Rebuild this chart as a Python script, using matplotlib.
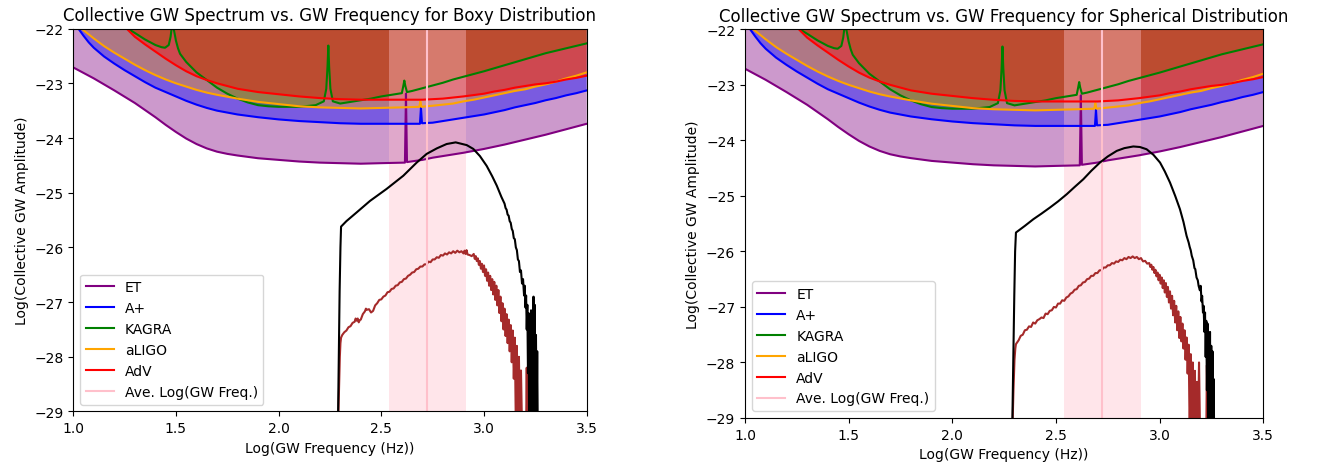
import matplotlib
matplotlib.use("Agg")
import matplotlib.pyplot as plt

# ---------------- detector sensitivity curves (log10 strain) ----------------
ET_x = [1.00, 1.10, 1.20, 1.30, 1.40, 1.45, 1.50, 1.55, 1.60, 1.65, 1.70, 1.75, 1.80, 1.90,
        2.00, 2.10, 2.20, 2.30, 2.40, 2.50, 2.615, 2.620, 2.625, 2.70, 2.75, 2.80, 2.85, 2.90,
        3.00, 3.10, 3.20, 3.30, 3.40, 3.50]
ET_y = [-22.71, -22.91, -23.13, -23.36, -23.62, -23.76, -23.89, -24.01, -24.11, -24.19, -24.25,
        -24.29, -24.32, -24.37, -24.40, -24.43, -24.45, -24.46, -24.47, -24.46, -24.45, -23.19,
        -24.44, -24.40, -24.36, -24.33, -24.30, -24.27, -24.20, -24.12, -24.03, -23.94, -23.84,
        -23.74]

AP_x = [1.00, 1.025, 1.05, 1.075, 1.10, 1.15, 1.20, 1.25, 1.30, 1.35, 1.40, 1.45, 1.50, 1.55,
        1.60, 1.65, 1.70, 1.80, 1.90, 2.00, 2.10, 2.20, 2.30, 2.40, 2.50, 2.60, 2.688, 2.693,
        2.698, 2.75, 2.80, 2.85, 2.90, 2.95, 3.00, 3.05, 3.10, 3.15, 3.20, 3.25, 3.30, 3.35,
        3.40, 3.45, 3.50]
AP_y = [-21.85, -22.00, -22.13, -22.25, -22.35, -22.51, -22.64, -22.76, -22.87, -22.98, -23.08,
        -23.16, -23.24, -23.32, -23.39, -23.45, -23.50, -23.57, -23.62, -23.66, -23.69, -23.71,
        -23.73, -23.74, -23.74, -23.74, -23.74, -23.45, -23.73, -23.72, -23.69, -23.66, -23.63,
        -23.60, -23.57, -23.53, -23.49, -23.44, -23.40, -23.36, -23.31, -23.27, -23.22, -23.18,
        -23.13]

KG_x = [1.20, 1.265, 1.30, 1.35, 1.40, 1.43, 1.447, 1.465, 1.474, 1.479, 1.484, 1.489, 1.495,
        1.50, 1.51, 1.52, 1.55, 1.60, 1.65, 1.70, 1.75, 1.80, 1.85, 1.90, 1.95, 2.00, 2.10,
        2.18, 2.22, 2.232, 2.238, 2.242, 2.246, 2.252, 2.264, 2.30, 2.35, 2.40, 2.45, 2.50,
        2.55, 2.60, 2.607, 2.612, 2.617, 2.625, 2.65, 2.70, 2.75, 2.80, 2.85, 2.90, 3.00, 3.10,
        3.20, 3.30, 3.40, 3.50]
KG_y = [-21.80, -22.00, -22.08, -22.20, -22.30, -22.34, -22.35, -22.30, -22.15, -22.00, -21.50,
        -22.00, -22.12, -22.22, -22.36, -22.46, -22.61, -22.80, -22.94, -23.08, -23.19, -23.28,
        -23.35, -23.40, -23.42, -23.43, -23.43, -23.40, -23.33, -23.10, -22.70, -22.31, -22.70,
        -23.10, -23.33, -23.37, -23.34, -23.31, -23.28, -23.24, -23.21, -23.18, -23.05, -22.95,
        -23.05, -23.16, -23.14, -23.09, -23.04, -22.99, -22.93, -22.88, -22.78, -22.67, -22.56,
        -22.45, -22.36, -22.27]

LG_x = [1.00, 1.04, 1.10, 1.15, 1.20, 1.25, 1.30, 1.35, 1.40, 1.45, 1.50, 1.55, 1.60, 1.65,
        1.70, 1.80, 1.90, 2.00, 2.10, 2.20, 2.30, 2.40, 2.50, 2.60, 2.685, 2.69, 2.695, 2.75,
        2.80, 2.85, 2.90, 2.95, 3.00, 3.05, 3.10, 3.15, 3.20, 3.25, 3.30, 3.35, 3.40, 3.45, 3.50]
LG_y = [-21.88, -22.00, -22.18, -22.32, -22.44, -22.55, -22.66, -22.76, -22.85, -22.93, -23.00,
        -23.06, -23.12, -23.17, -23.21, -23.28, -23.34, -23.38, -23.42, -23.44, -23.45, -23.46,
        -23.45, -23.44, -23.43, -23.33, -23.43, -23.41, -23.39, -23.37, -23.33, -23.30, -23.26,
        -23.22, -23.18, -23.14, -23.11, -23.06, -23.02, -22.97, -22.91, -22.86, -22.80]

AV_x = [1.20, 1.26, 1.30, 1.35, 1.40, 1.45, 1.50, 1.55, 1.60, 1.65, 1.70, 1.75, 1.80, 1.90,
        2.00, 2.10, 2.20, 2.30, 2.40, 2.50, 2.60, 2.70, 2.80, 2.90, 3.00, 3.05, 3.10, 3.15,
        3.20, 3.25, 3.30, 3.35, 3.40, 3.45, 3.50]
AV_y = [-21.75, -22.00, -22.15, -22.29, -22.42, -22.55, -22.67, -22.78, -22.87, -22.94, -23.00,
        -23.05, -23.10, -23.16, -23.20, -23.24, -23.27, -23.29, -23.30, -23.30, -23.30, -23.30,
        -23.28, -23.24, -23.19, -23.15, -23.12, -23.08, -23.05, -23.02, -23.00, -22.97, -22.93,
        -22.90, -22.86]

DET_NAMES = ["ET", "A+", "KAGRA", "aLIGO", "AdV"]
DET_COLORS = ["purple", "blue", "green", "orange", "red"]

# average log frequency band
AVG_LOGF = 2.724
AVG_LO = 2.537
AVG_HI = 2.912

# ---------------- Boxy distribution spectra ----------------
BOXY_BLACK_X = [2.288, 2.293, 2.297, 2.301, 2.304, 2.33, 2.38, 2.445, 2.526, 2.607, 2.672, 2.721,
                2.77, 2.818, 2.862, 2.916, 2.948, 2.98, 3.013, 3.04, 3.062, 3.085,
                3.100, 3.105, 3.110, 3.115, 3.120, 3.125, 3.130, 3.135, 3.140, 3.145, 3.150,
                3.155, 3.160, 3.165, 3.170, 3.175, 3.180, 3.185, 3.190, 3.195, 3.198, 3.202,
                3.205, 3.208, 3.211, 3.214, 3.217, 3.220, 3.223, 3.226, 3.229, 3.232, 3.235,
                3.238, 3.241, 3.244, 3.247, 3.250, 3.253, 3.256, 3.259, 3.262]
BOXY_BLACK_Y = [-29.5, -28.0, -26.8, -26.0, -25.62, -25.52, -25.36, -25.15, -24.93, -24.69,
                -24.45, -24.29, -24.19, -24.11, -24.08, -24.13, -24.20, -24.33, -24.51, -24.70,
                -24.87, -25.08,
                -25.20, -25.28, -25.31, -25.40, -25.42, -25.52, -25.55, -25.66, -25.70, -25.83,
                -25.85, -26.00, -26.05, -26.22, -26.25, -26.45, -26.42, -26.66, -26.58, -26.88,
                -26.70, -27.10, -26.88, -27.50, -27.05, -28.30, -27.20, -29.3, -27.30, -29.3,
                -27.15, -29.3, -27.50, -29.3, -26.90, -29.3, -27.05, -29.3, -27.60, -29.3,
                -27.90, -29.5]

BOXY_RED_X = [2.288, 2.294, 2.298, 2.301, 2.304, 2.31, 2.32, 2.33, 2.34, 2.35, 2.36, 2.37, 2.375,
              2.38, 2.385, 2.39, 2.395, 2.40, 2.41, 2.42, 2.425, 2.43, 2.44, 2.45, 2.46, 2.47,
              2.48, 2.49, 2.50, 2.51, 2.52, 2.53, 2.54, 2.55, 2.56, 2.57, 2.58, 2.59, 2.60, 2.61,
              2.62, 2.63, 2.64, 2.65, 2.66, 2.67, 2.68, 2.69, 2.70, 2.71, 2.72, 2.73, 2.74, 2.75,
              2.76, 2.77, 2.78, 2.79, 2.80, 2.81, 2.82, 2.83, 2.84, 2.85, 2.86, 2.87, 2.88, 2.89,
              2.90, 2.905, 2.91, 2.915, 2.92, 2.93, 2.94,
              2.950, 2.955, 2.960, 2.965, 2.970, 2.975, 2.980, 2.985, 2.990, 2.995, 3.000, 3.005,
              3.010, 3.015, 3.020, 3.025, 3.030, 3.035, 3.040, 3.045, 3.050, 3.055, 3.060, 3.065,
              3.070, 3.075, 3.080, 3.085, 3.090, 3.095, 3.100, 3.105, 3.110, 3.115, 3.120, 3.125,
              3.130, 3.135, 3.140, 3.145, 3.150, 3.155, 3.160, 3.165, 3.170, 3.175, 3.180, 3.185,
              3.190, 3.205, 3.208, 3.211]
BOXY_RED_Y = [-29.5, -28.6, -28.0, -27.75, -27.65, -27.60, -27.55, -27.52, -27.46, -27.44, -27.38,
              -27.36, -27.30, -27.34, -27.30, -27.37, -27.33, -27.32, -27.22, -27.17, -27.12,
              -27.14, -27.13, -27.19, -27.16, -27.06, -27.02, -26.96, -26.95, -26.90, -26.88,
              -26.82, -26.81, -26.76, -26.75, -26.70, -26.69, -26.64, -26.63, -26.58, -26.57,
              -26.52, -26.50, -26.46, -26.45, -26.40, -26.39, -26.35, -26.35, -26.31, -26.31,
              -26.26, -26.27, -26.22, -26.22, -26.18, -26.19, -26.14, -26.15, -26.11, -26.13,
              -26.09, -26.11, -26.07, -26.10, -26.06, -26.09, -26.07, -26.11, -26.06, -26.12,
              -26.05, -26.13, -26.14, -26.16,
              -26.12, -26.21, -26.16, -26.25, -26.20, -26.32, -26.25, -26.39, -26.30, -26.45,
              -26.33, -26.52, -26.40, -26.61, -26.46, -26.70, -26.52, -26.78, -26.58, -26.86,
              -26.63, -26.96, -26.70, -27.06, -26.78, -27.20, -26.90, -27.35, -27.02, -27.50,
              -27.12, -27.62, -27.22, -27.75, -27.32, -27.90, -27.42, -28.10, -27.52, -28.40,
              -27.65, -29.3, -27.80, -29.3, -28.00, -29.3, -28.25, -29.3, -29.3, -29.3, -28.20,
              -29.5]

# ---------------- Spherical distribution spectra ----------------
SPH_BLACK_X = [2.288, 2.294, 2.299, 2.303, 2.307, 2.35, 2.391, 2.43, 2.471, 2.51, 2.552, 2.59,
               2.632, 2.67, 2.712, 2.75, 2.793, 2.83, 2.873, 2.905, 2.937, 2.97, 3.002, 3.025,
               3.05, 3.075, 3.098, 3.115, 3.13, 3.14, 3.145, 3.15, 3.155, 3.162, 3.168, 3.172,
               3.178, 3.184, 3.188, 3.194, 3.198, 3.202, 3.205, 3.209, 3.212, 3.216, 3.219,
               3.222, 3.225, 3.228, 3.231, 3.234, 3.237, 3.240, 3.243, 3.246, 3.249, 3.252,
               3.255, 3.258, 3.261, 3.263]
SPH_BLACK_Y = [-29.5, -28.0, -26.8, -26.0, -25.66, -25.54, -25.42, -25.32, -25.21, -25.10, -24.97,
               -24.84, -24.70, -24.55, -24.40, -24.29, -24.19, -24.14, -24.11, -24.12, -24.16,
               -24.26, -24.40, -24.56, -24.76, -25.00, -25.24, -25.47, -25.72, -25.84, -25.92,
               -25.98, -26.08, -26.16, -26.30, -26.32, -26.47, -26.52, -26.62, -26.70, -26.62,
               -26.90, -26.80, -27.10, -26.98, -27.45, -27.10, -27.90, -27.25, -28.50, -27.30,
               -29.3, -27.55, -29.3, -27.45, -29.3, -27.70, -29.3, -27.80, -29.3, -28.30, -29.5]

SPH_RED_X = [2.288, 2.295, 2.300, 2.304, 2.307, 2.32, 2.33, 2.34, 2.35, 2.36, 2.37, 2.38, 2.39,
             2.40, 2.41, 2.42, 2.43, 2.44, 2.45, 2.46, 2.47, 2.48, 2.49, 2.50, 2.51, 2.52, 2.53,
             2.54, 2.55, 2.56, 2.57, 2.58, 2.59, 2.60, 2.61, 2.62, 2.63, 2.64, 2.65, 2.66, 2.67,
             2.68, 2.69, 2.70, 2.71, 2.72, 2.73, 2.74, 2.75, 2.76, 2.77, 2.78, 2.79, 2.80, 2.81,
             2.82, 2.83, 2.84, 2.85, 2.86, 2.87, 2.88, 2.89, 2.90, 2.91, 2.92, 2.93, 2.94, 2.95,
             2.955, 2.960, 2.965, 2.970, 2.975, 2.980, 2.985, 2.990, 2.995, 3.000, 3.005, 3.010,
             3.015, 3.020, 3.025, 3.030, 3.035, 3.040, 3.045, 3.050, 3.055, 3.060, 3.065, 3.070,
             3.075, 3.080, 3.085, 3.090, 3.095, 3.100, 3.105, 3.110, 3.115, 3.120, 3.125, 3.130,
             3.135, 3.140, 3.145, 3.150, 3.155, 3.160, 3.165, 3.170, 3.175, 3.180, 3.185, 3.190,
             3.195, 3.225, 3.228, 3.231]
SPH_RED_Y = [-29.5, -28.5, -27.95, -27.75, -27.67, -27.60, -27.52, -27.50, -27.42, -27.41, -27.35,
             -27.36, -27.28, -27.30, -27.24, -27.22, -27.19, -27.20, -27.12, -27.13, -27.07, -27.06,
             -27.00, -27.01, -26.94, -26.94, -26.88, -26.89, -26.83, -26.81, -26.76, -26.74, -26.69,
             -26.68, -26.62, -26.61, -26.56, -26.55, -26.50, -26.49, -26.44, -26.44, -26.39, -26.39,
             -26.34, -26.34, -26.29, -26.29, -26.25, -26.25, -26.21, -26.22, -26.18, -26.19, -26.15,
             -26.16, -26.12, -26.14, -26.10, -26.12, -26.09, -26.12, -26.10, -26.14, -26.12, -26.18,
             -26.17, -26.22, -26.21,
             -26.28, -26.24, -26.33, -26.28, -26.39, -26.33, -26.45, -26.38, -26.52, -26.42, -26.58,
             -26.47, -26.66, -26.52, -26.74, -26.57, -26.82, -26.64, -26.92, -26.72, -27.03, -26.80,
             -27.15, -26.89, -27.28, -26.98, -27.42, -27.08, -27.56, -27.18, -27.62, -27.30, -27.75,
             -27.42, -27.95, -27.55, -28.20, -27.68, -29.3, -27.85, -29.3, -28.00, -29.3, -28.15,
             -29.3, -28.35, -29.3, -28.00, -29.3, -29.3, -28.05, -29.5]

DETECTORS = [(ET_x, ET_y), (AP_x, AP_y), (KG_x, KG_y), (LG_x, LG_y), (AV_x, AV_y)]


def draw(ax, bx, by, rx, ry, title):
    for (xs, ys), name, col in zip(DETECTORS, DET_NAMES, DET_COLORS):
        ax.fill_between(xs, ys, -10, color=col, alpha=0.4, lw=0)
        ax.plot(xs, ys, color=col, lw=1.5, label=name)
    ax.axvspan(AVG_LO, AVG_HI, color="pink", alpha=0.4, lw=0)
    ax.plot(rx, ry, color="brown", lw=1.5)
    ax.axvline(AVG_LOGF, color="pink", lw=1.5, label="Ave. Log(GW Freq.)")
    ax.plot(bx, by, color="black", lw=1.5)
    ax.set_xlim(1.0, 3.5)
    ax.set_ylim(-29, -22)
    ax.set_xticks([1.0, 1.5, 2.0, 2.5, 3.0, 3.5])
    ax.set_yticks([-29, -28, -27, -26, -25, -24, -23, -22])
    ax.set_title(title, fontsize=12)
    ax.set_xlabel("Log(GW Frequency (Hz))")
    ax.set_ylabel("Log(Collective GW Amplitude)")
    ax.legend(loc="lower left")


fig = plt.figure(figsize=(13.22, 4.64), dpi=100)
ax1 = fig.add_axes([0.0554, 0.1110, 0.3884, 0.8252])
ax2 = fig.add_axes([0.5635, 0.0970, 0.3921, 0.8377])
draw(ax1, BOXY_BLACK_X, BOXY_BLACK_Y, BOXY_RED_X, BOXY_RED_Y,
     "Collective GW Spectrum vs. GW Frequency for Boxy Distribution")
draw(ax2, SPH_BLACK_X, SPH_BLACK_Y, SPH_RED_X, SPH_RED_Y,
     "Collective GW Spectrum vs. GW Frequency for Spherical Distribution")
fig.savefig("out.png", dpi=100)
